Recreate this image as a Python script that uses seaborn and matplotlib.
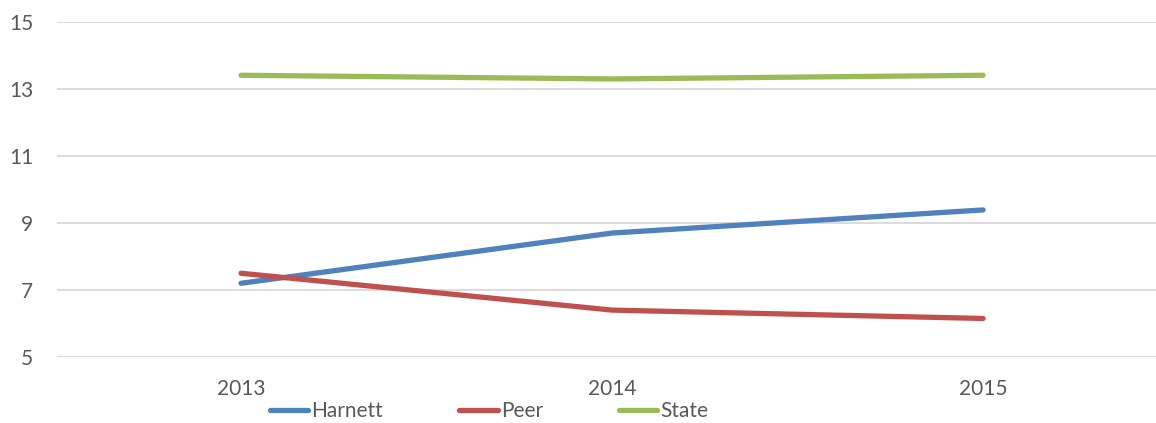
import numpy as np
import pandas as pd
import matplotlib
matplotlib.use("Agg")
import matplotlib.pyplot as plt
import seaborn as sns

years = ["2013", "2014", "2015"]
harnett = [7.2, 8.7, 9.39]
peer = [7.5, 6.4, 6.15]
state = [13.41, 13.3, 13.41]

series = {"Harnett": harnett, "Peer": peer, "State": state}
palette = {"Harnett": "#4F81BD", "Peer": "#C0504D", "State": "#9BBB59"}

df = pd.DataFrame([
    {"year": i, "label": y, "series": name, "value": v}
    for name, vals in series.items()
    for i, (y, v) in enumerate(zip(years, vals))
])

sns.set_style("white")
plt.rcParams["font.family"] = ["Lato", "DejaVu Sans"]
TXT = "#595959"
FS = 15

fig = plt.figure(figsize=(11.56, 4.23), dpi=100)
ax = fig.add_axes([57 / 1156, 1 - 357 / 423, 1 - 57 / 1156, (357 - 22) / 423])

sns.lineplot(data=df, x="year", y="value", hue="series", palette=palette,
             linewidth=3.8, ax=ax, legend=False, solid_capstyle="round")

ax.set_ylim(5, 15)
ax.set_yticks([5, 7, 9, 11, 13, 15])
ax.set_xlim(-0.496, 2.466)
ax.set_xticks(range(len(years)))
ax.set_xticklabels(years)
ax.set_xlabel("")
ax.set_ylabel("")
ax.grid(axis="y", color="#D9D9D9", linewidth=1.3)
ax.set_axisbelow(True)
for s in ax.spines.values():
    s.set_visible(False)
ax.tick_params(axis="both", length=0, labelsize=FS, labelcolor=TXT)
ax.tick_params(axis="y", pad=17)
ax.tick_params(axis="x", pad=16)

handles = [plt.Line2D([], [], color=palette[n], linewidth=3.8, solid_capstyle="round")
           for n in series]
fig.legend(handles, list(series), loc="center", bbox_to_anchor=(489 / 1156, 1 - 411 / 423),
           ncol=3, frameon=False, fontsize=FS, labelcolor=TXT, handlelength=1.85,
           handletextpad=0.15, columnspacing=3.65)

fig.savefig("out.png", dpi=100)
